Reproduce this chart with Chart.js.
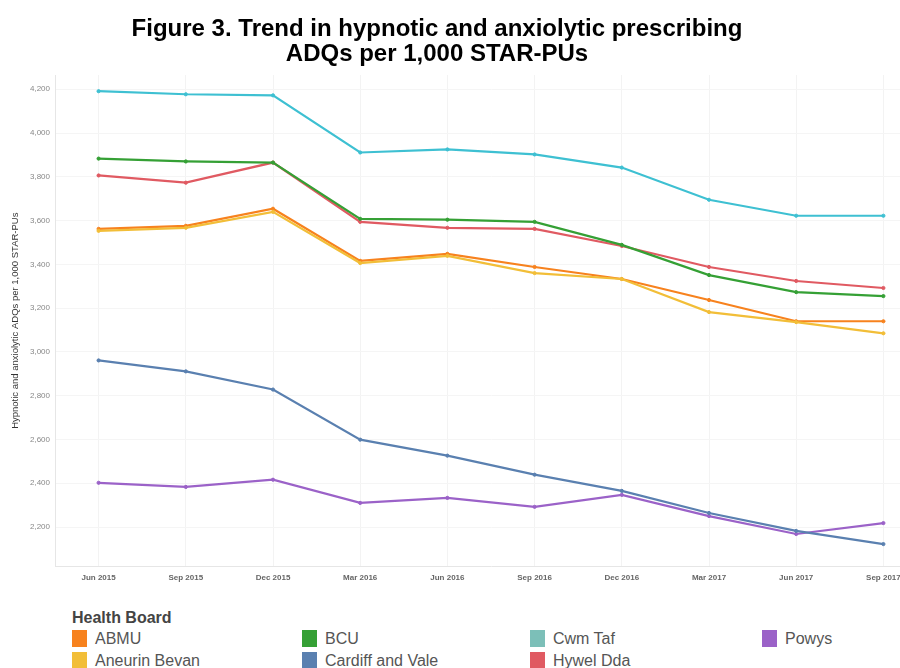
<!DOCTYPE html>
<html>
<head>
<meta charset="utf-8">
<script src="https://cdn.jsdelivr.net/npm/chart.js@4/dist/chart.umd.min.js"></script>
<style>
  html, body { margin: 0; padding: 0; background: #fff; overflow: hidden; width: 900px; height: 668px; }
  #wrap { position: relative; width: 900px; height: 668px; overflow: hidden; font-family: "Liberation Sans", Arial, sans-serif; }
  #title { position: absolute; left: 0; top: 15px; width: 874px; text-align: center; font-weight: bold; font-size: 24px; line-height: 25px; color: #000; }
  #cbox { position: absolute; left: 0; top: 0; width: 935px; height: 600px; }
  #legend { position: absolute; left: 72px; top: 609px; width: 828px; color: #555; }
  #legend .lt { font-weight: bold; font-size: 16px; color: #444; height: 20px; }
  #legend .grid { display: grid; grid-template-columns: 230px 228px 232px 100px; row-gap: 3px; }
  #legend .it { display: flex; align-items: center; font-size: 16px; height: 19px; white-space: nowrap; }
  #legend .sw { width: 15px; height: 17px; margin-right: 8px; }
</style>
</head>
<body>
<div id="wrap">
  <div id="cbox"><canvas id="c"></canvas></div>
  <div id="title">Figure 3. Trend in hypnotic and anxiolytic prescribing<br>ADQs per 1,000 STAR-PUs</div>
  <div id="legend"><div class="lt">Health Board</div><div class="grid" id="lg"></div></div>
</div>
<script>
const categories = ["Jun 2015","Sep 2015","Dec 2015","Mar 2016","Jun 2016","Sep 2016","Dec 2016","Mar 2017","Jun 2017","Sep 2017"];
const yTicks = [2200,2400,2600,2800,3000,3200,3400,3600,3800,4000,4200];

const cwmTaf        = [4191,4177,4172,3911,3925,3902,3842,3695,3622,3622];
const bcu           = [3883,3870,3865,3608,3604,3594,3489,3351,3273,3255];
const hywelDda      = [3806,3773,3865,3594,3567,3562,3484,3388,3324,3292];
const abmu          = [3562,3576,3654,3416,3448,3388,3333,3237,3140,3140];
const aneurinBevan  = [3553,3567,3640,3406,3439,3360,3333,3182,3136,3085];
const cardiffVale   = [2961,2911,2828,2599,2526,2439,2365,2264,2182,2122];
const powys         = [2402,2383,2416,2310,2333,2292,2347,2250,2168,2218];

const seriesNames = ["ABMU","BCU","Cwm Taf","Powys","Aneurin Bevan","Cardiff and Vale","Hywel Dda"];
const seriesData  = [abmu, bcu, cwmTaf, powys, aneurinBevan, cardiffVale, hywelDda];
const lineColors  = ["#f7821e","#35a035","#3ec0d2","#9b62c8","#f2be38","#5a80b0","#e05a62"];
const swatchColors= ["#f7821e","#35a035","#7cbfb8","#9b62c8","#f2be38","#5a80b0","#e05a62"];
const drawOrder   = [2,1,6,4,0,5,3];

const datasets = drawOrder.map(i => ({
  label: seriesNames[i],
  data: seriesData[i],
  borderColor: lineColors[i],
  backgroundColor: lineColors[i],
  borderWidth: 2.2,
  pointRadius: 1.6,
  pointBorderWidth: 1,
  pointHoverRadius: 2,
  tension: 0,
  fill: false
}));

new Chart(document.getElementById('c'), {
  type: 'line',
  data: { labels: categories, datasets },
  options: {
    responsive: true,
    maintainAspectRatio: false,
    animation: false,
    layout: { padding: { top: 75, right: 8, bottom: 10, left: 0 } },
    plugins: { legend: { display: false }, tooltip: { enabled: false }, title: { display: false } },
    scales: {
      x: {
        offset: true,
        grid: { color: '#f3f3f3', drawTicks: false, offset: false },
        border: { color: '#e6e6e6' },
        ticks: { color: '#666', font: { family: 'Liberation Sans', size: 8, weight: 'bold' }, padding: 7, maxRotation: 0 }
      },
      y: {
        min: 2020, max: 4265,
        afterBuildTicks: (s) => { s.ticks = yTicks.map(v => ({ value: v })); },
        afterFit: (s) => { s.width = 55; },
        grid: { color: '#f5f5f5', drawTicks: false },
        border: { color: '#e6e6e6' },
        ticks: { color: '#888', font: { family: 'Liberation Sans', size: 8 }, padding: 5,
                 callback: (v) => v.toLocaleString('en-US') },
        title: { display: true, text: 'Hypnotic and anxiolytic ADQs per 1,000 STAR-PUs', color: '#333',
                 font: { family: 'Liberation Sans', size: 9.5 }, padding: { top: 10, bottom: 2 } }
      }
    }
  }
});

const lg = document.getElementById('lg');
seriesNames.forEach((name, i) => {
  const d = document.createElement('div');
  d.className = 'it';
  d.innerHTML = '<span class="sw" style="background:' + swatchColors[i] + '"></span>' + name;
  lg.appendChild(d);
});
</script>
</body>
</html>
